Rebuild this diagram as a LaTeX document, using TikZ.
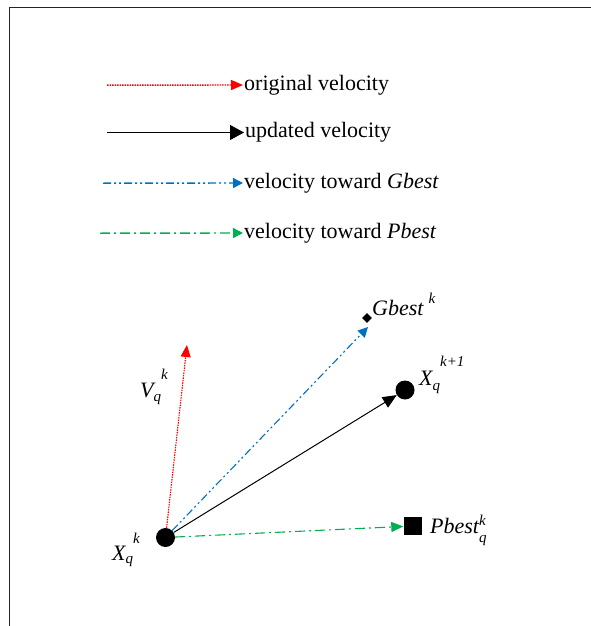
\documentclass[tikz,border=0pt]{standalone}
\usepackage{fontspec}
\setmainfont{Liberation Serif}
\usetikzlibrary{arrows.meta}
\definecolor{vred}{RGB}{255,0,0}
\definecolor{vblue}{RGB}{0,112,192}
\definecolor{vgreen}{RGB}{0,176,80}
\newcommand\smit[1]{{\fontsize{15}{15}\selectfont\itshape #1}}
\newcommand\smup[1]{{\fontsize{15}{15}\selectfont #1}}
\begin{document}
\begin{tikzpicture}[x=1pt,y=-1pt,
  redline/.style={draw=vred,line width=1.1pt,dash pattern=on 1.5pt off 1pt,-{Triangle[length=12pt,width=10pt,fill=vred]}},
  blackline/.style={black,line width=1pt,-{Triangle[length=14pt,width=15pt]}},
  blueline/.style={draw=vblue,line width=1.1pt,dash pattern=on 8pt off 3pt on 2pt off 3pt on 2pt off 3pt,-{Triangle[length=10pt,width=10pt,fill=vblue]}},
  greenline/.style={draw=vgreen,line width=1.1pt,dash pattern=on 10pt off 4pt on 2pt off 4pt,-{Triangle[length=10pt,width=10pt,fill=vgreen]}},
  lt/.style={font=\fontsize{22}{26}\selectfont,inner sep=1pt,anchor=west},
  lab/.style={font=\fontsize{22}{26}\selectfont\itshape,inner sep=0pt,anchor=base west},
  dot/.style={circle,fill=black,draw=none,minimum size=19pt,inner sep=0pt},
  sqr/.style={rectangle,fill=black,draw=none,minimum size=18pt,inner sep=0pt},
  dia/.style={rectangle,fill=black,draw=none,minimum size=7pt,inner sep=0pt,rotate=45}]
\useasboundingbox (0,0) rectangle (591,626);
% frame
\coordinate (f1) at (9.5,626);
\coordinate (f2) at (9.5,7.5);
\coordinate (f3) at (591,7.5);
\draw[line width=1pt,black!85] (f1) -- (f2) -- (f3);
% legend
\coordinate (l1a) at (107,85.2);  \coordinate (l1b) at (243,85);
\coordinate (l2a) at (107,132.5); \coordinate (l2b) at (244,132.5);
\coordinate (l3a) at (103,183.2); \coordinate (l3b) at (243,183);
\coordinate (l4a) at (100,233.2); \coordinate (l4b) at (243,233);
\draw[redline,line width=1.4pt] (l1a) -- (l1b);
\draw[blackline] (l2a) -- (l2b);
\draw[blueline,line width=1.4pt] (l3a) -- (l3b);
\draw[greenline,line width=1.4pt] (l4a) -- (l4b);
\node[lt] (t1) at (l1b) {original velocity};
\node[lt] (t2) at (l2b) {updated velocity};
\node[lt] (t3) at (l3b) {velocity toward \textit{Gbest}};
\node[lt] (t4) at (l4b) {velocity toward \textit{Pbest}};
% points
\node[dot] (xk) at (165.5,537.5) {};
\node[dot] (xk1) at (405,390) {};
\node[sqr] (pb) at (412.5,526) {};
\node[dia] (gb) at (367,318) {};
\coordinate (vt) at (187,345);
\coordinate (gt) at (368,327);
% arrows
\draw[redline] (xk) -- (vt);
\draw[blueline] (xk) -- (gt);
\draw[black,line width=1pt,-{Triangle[length=14pt,width=12pt]}] (xk) -- (xk1);
\draw[greenline,-{Triangle[length=12pt,width=10pt,fill=vgreen]}] (xk) -- (pb);
% labels
\node[lab] (vl) at (140,397) {V\raisebox{-4pt}{\smit{q}}\raisebox{18pt}{\smit{k}}};
\node[lab] (xl) at (112,560) {X\raisebox{-3pt}{\smit{q}}\raisebox{17pt}{\smit{k}}};
\node[lab] (gl) at (372,315) {Gbest\hspace{5pt}\raisebox{12pt}{\smit{k}}};
\node[lab] (x1l) at (419,385) {X\raisebox{-5pt}{\smit{q}}\raisebox{19pt}{\smit{k}\smup{+1}}};
\node[lab] (pl) at (430,533) {Pbest\rlap{\raisebox{-9pt}{\smit{q}}}\raisebox{8pt}{\smit{k}}};
\end{tikzpicture}
\end{document}
